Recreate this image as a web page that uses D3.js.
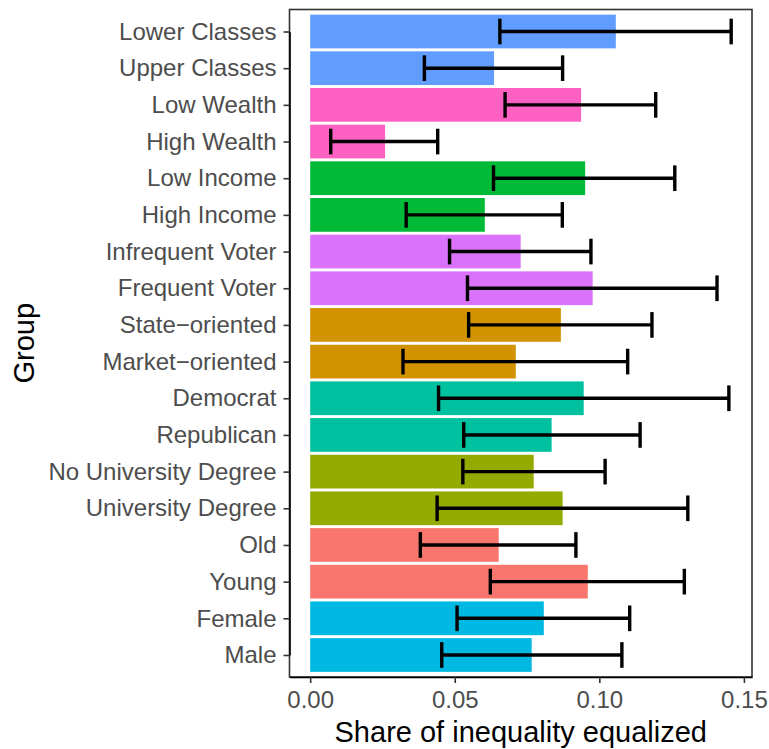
<!DOCTYPE html>
<html>
<head>
<meta charset="utf-8">
<script src="https://cdn.jsdelivr.net/npm/d3@7"></script>
<style>
  html, body { margin: 0; padding: 0; background: #fff; }
  svg { display: block; font-family: "Liberation Sans", Arial, sans-serif; }
</style>
</head>
<body>
<svg id="chart" width="769" height="749"></svg>
<script>
// Groups listed top to bottom
const groups = [
  "Lower Classes", "Upper Classes", "Low Wealth", "High Wealth",
  "Low Income", "High Income", "Infrequent Voter", "Frequent Voter",
  "State\u2212oriented", "Market\u2212oriented", "Democrat", "Republican",
  "No University Degree", "University Degree", "Old", "Young",
  "Female", "Male"
];
// Dimension each group belongs to (sets the fill)
const dimension = [
  "class", "class", "wealth", "wealth",
  "income", "income", "voting", "voting",
  "ideology", "ideology", "party", "party",
  "education", "education", "age", "age",
  "gender", "gender"
];
// Point estimates and confidence limits
const estimate = [
  0.1057, 0.0636, 0.0937, 0.0259,
  0.0951, 0.0604, 0.0728, 0.0977,
  0.0867, 0.0711, 0.0946, 0.0835,
  0.0773, 0.0873, 0.0652, 0.0960,
  0.0808, 0.0766
];
const lower = [
  0.0656, 0.0395, 0.0674, 0.0071,
  0.0634, 0.0332, 0.0482, 0.0544,
  0.0548, 0.0321, 0.0444, 0.0531,
  0.0528, 0.0439, 0.0381, 0.0623,
  0.0508, 0.0455
];
const upper = [
  0.1456, 0.0873, 0.1195, 0.0441,
  0.1261, 0.0872, 0.0971, 0.1407,
  0.1182, 0.1098, 0.1448, 0.1141,
  0.1020, 0.1306, 0.0919, 0.1294,
  0.1105, 0.1078
];
const xTicks = [0, 0.05, 0.10, 0.15];
const dimensions = ["age", "ideology", "education", "income", "party", "gender", "class", "voting", "wealth"];
const palette = ["#F8766D", "#D39200", "#93AA00", "#00BA38", "#00C19F", "#00B9E3", "#619CFF", "#DB72FB", "#FF61C3"];

const rows = groups.map((g, i) => ({
  group: g, dim: dimension[i], est: estimate[i], lo: lower[i], hi: upper[i]
}));

const svg = d3.select("#chart");
const panel = { left: 289.5, right: 752, top: 9.5, bottom: 677 };
const fontFamily = "Liberation Sans, Arial, sans-serif";

// x extent padded the way ggplot expands a continuous scale
const xMin = -0.00715, xMax = 0.1528;
const x = d3.scaleLinear().domain([xMin, xMax]).range([panel.left, panel.right]);

// band layout with 0.6-unit discrete expansion on each end
const n = groups.length;
const unit = (panel.bottom - panel.top) / (n - 1 + 1.2);
const y = d3.scalePoint().domain(groups)
  .range([panel.top + 0.6 * unit, panel.bottom - 0.6 * unit]);
const color = d3.scaleOrdinal().domain(dimensions).range(palette);

const barH = unit * 0.92;
const capH = unit * 0.7;

// bars
svg.append("g").selectAll("rect").data(rows).join("rect")
  .attr("x", x(0))
  .attr("y", d => y(d.group) - barH / 2)
  .attr("width", d => x(d.est) - x(0))
  .attr("height", barH)
  .attr("fill", d => color(d.dim));

// error bars
const eb = svg.append("g").attr("stroke", "#000").attr("stroke-width", 3.4).attr("fill", "none");
eb.selectAll("line.h").data(rows).join("line").attr("class", "h")
  .attr("x1", d => x(d.lo)).attr("x2", d => x(d.hi))
  .attr("y1", d => y(d.group)).attr("y2", d => y(d.group));
eb.selectAll("line.lo").data(rows).join("line").attr("class", "lo")
  .attr("x1", d => x(d.lo)).attr("x2", d => x(d.lo))
  .attr("y1", d => y(d.group) - capH / 2).attr("y2", d => y(d.group) + capH / 2);
eb.selectAll("line.hi").data(rows).join("line").attr("class", "hi")
  .attr("x1", d => x(d.hi)).attr("x2", d => x(d.hi))
  .attr("y1", d => y(d.group) - capH / 2).attr("y2", d => y(d.group) + capH / 2);

// panel border
svg.append("rect")
  .attr("x", panel.left).attr("y", panel.top)
  .attr("width", panel.right - panel.left).attr("height", panel.bottom - panel.top)
  .attr("fill", "none").attr("stroke", "#333").attr("stroke-width", 1.6);

// x axis
const xAxis = svg.append("g")
  .attr("transform", `translate(0,${panel.bottom})`)
  .call(d3.axisBottom(x).tickValues(xTicks).tickFormat(d3.format(".2f"))
    .tickSizeOuter(0).tickSizeInner(6).tickPadding(8));
xAxis.select(".domain").attr("stroke", "#000").attr("stroke-width", 1.6);
xAxis.selectAll(".tick line").attr("stroke", "#333").attr("stroke-width", 1.6);
xAxis.selectAll(".tick text").attr("fill", "#4D4D4D").attr("font-size", 24)
  .attr("font-family", fontFamily);

// y axis
const yAxis = svg.append("g")
  .attr("transform", `translate(${panel.left},0)`)
  .call(d3.axisLeft(y).tickSizeOuter(0).tickSizeInner(6).tickPadding(7));
yAxis.select(".domain").attr("stroke", "#000").attr("stroke-width", 1.6);
yAxis.selectAll(".tick line").attr("stroke", "#333").attr("stroke-width", 1.6);
yAxis.selectAll(".tick text").attr("fill", "#4D4D4D").attr("font-size", 24)
  .attr("font-family", fontFamily);

// axis titles
svg.append("text")
  .attr("x", (panel.left + panel.right) / 2).attr("y", 742)
  .attr("text-anchor", "middle").attr("font-size", 29).attr("fill", "#000")
  .attr("font-family", fontFamily)
  .text("Share of inequality equalized");
svg.append("text")
  .attr("transform", `translate(34,${(panel.top + panel.bottom) / 2}) rotate(-90)`)
  .attr("text-anchor", "middle").attr("font-size", 29).attr("fill", "#000")
  .attr("font-family", fontFamily)
  .text("Group");
</script>
</body>
</html>
